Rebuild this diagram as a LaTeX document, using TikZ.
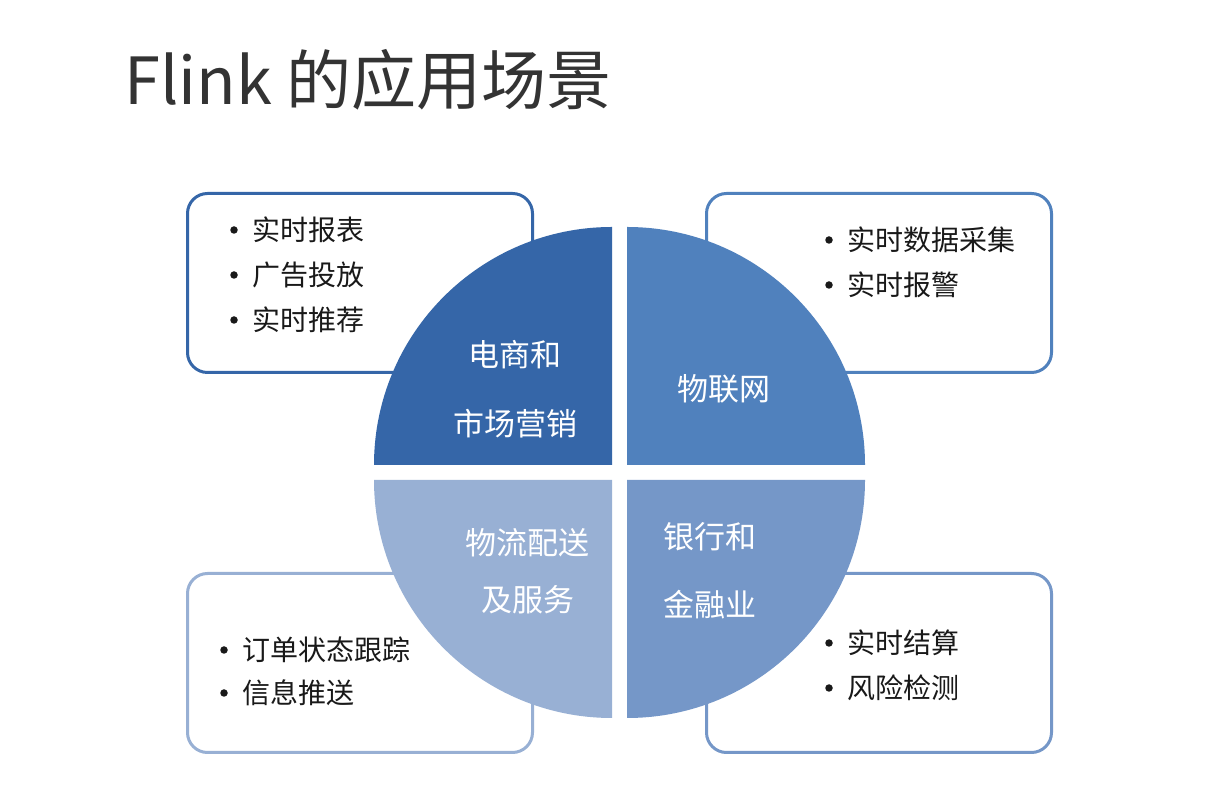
\documentclass[tikz,border=0pt]{standalone}
\usepackage{fontspec}
\setmainfont{Noto Sans CJK SC}
\usepackage{tikz}
\usetikzlibrary{positioning}

\definecolor{qdark}{RGB}{53,102,168}
\definecolor{qmid}{RGB}{80,129,189}
\definecolor{qsoft}{RGB}{117,151,200}
\definecolor{qpale}{RGB}{152,176,212}
\definecolor{titlegray}{RGB}{51,51,51}

\begin{document}
\begin{tikzpicture}[x=1pt, y=1pt,
    panel/.style={draw, rounded corners=20pt, line width=3pt, fill=white,
      minimum width=345pt, minimum height=179pt, inner sep=0pt},
    item/.style={anchor=west, inner sep=0pt, text=black!90,
      font=\fontsize{28}{30}\selectfont},
    dotmark/.style={circle, fill=black!90, inner sep=0pt, minimum size=7.5pt},
    sector/.style={text=white, inner sep=0pt, font=\fontsize{31}{34}\selectfont}]
    \useasboundingbox[fill=white] (0,0) rectangle (1215,792);

    % titolo
    \node (title) [anchor=west, inner sep=0pt, text=titlegray,
      font=\fontsize{65}{70}\selectfont] at (124,712) {Flink 的应用场景};

    % riquadri dietro il cerchio
    \node (boxTL) [panel, draw=qdark] at (360,509) {};
    \node (boxTR) [panel, draw=qmid]  at (879,509) {};
    \node (boxBL) [panel, draw=qpale] at (360,129) {};
    \node (boxBR) [panel, draw=qsoft] at (879,129) {};

    % quattro quarti di cerchio
    \fill[qdark] (612,327) -- ++(-238,0) arc[start angle=180, end angle=90, radius=238] -- cycle;
    \fill[qmid]  (627,327) -- ++(238,0) arc[start angle=0, end angle=90, radius=238] -- cycle;
    \fill[qpale] (612,312) -- ++(-238,0) arc[start angle=180, end angle=270, radius=238] -- cycle;
    \fill[qsoft] (627,312) -- ++(238,0) arc[start angle=0, end angle=-90, radius=238] -- cycle;

    % etichette dei settori
    \node (ecom)   [sector] at (515,437) {电商和};
    \node (market) [sector] at (515,368) {市场营销};
    \node (iot)    [sector] at (724,403) {物联网};
    \node (logi)   [sector] at (527,249) {物流配送};
    \node (serv)   [sector] at (528,192) {及服务};
    \node (bank)   [sector] at (710,255) {银行和};
    \node (fin)    [sector] at (710,187) {金融业};

    % elenchi puntati
    \node (tl1) [item] at (252,562) {实时报表};
    \node (tl2) [item] at (252,517) {广告投放};
    \node (tl3) [item] at (252,472) {实时推荐};
    \node (tr1) [item] at (847,552) {实时数据采集};
    \node (tr2) [item] at (847,507) {实时报警};
    \node (bl1) [item] at (242,142) {订单状态跟踪};
    \node (bl2) [item] at (242,99)  {信息推送};
    \node (br1) [item] at (847,149) {实时结算};
    \node (br2) [item] at (847,104) {风险检测};
    \foreach \t in {tl1,tl2,tl3,tr1,tr2,bl1,bl2,br1,br2}
      \node (dot-\t) [dotmark, left=18pt of \t.west, anchor=center] {};
\end{tikzpicture}
\end{document}
